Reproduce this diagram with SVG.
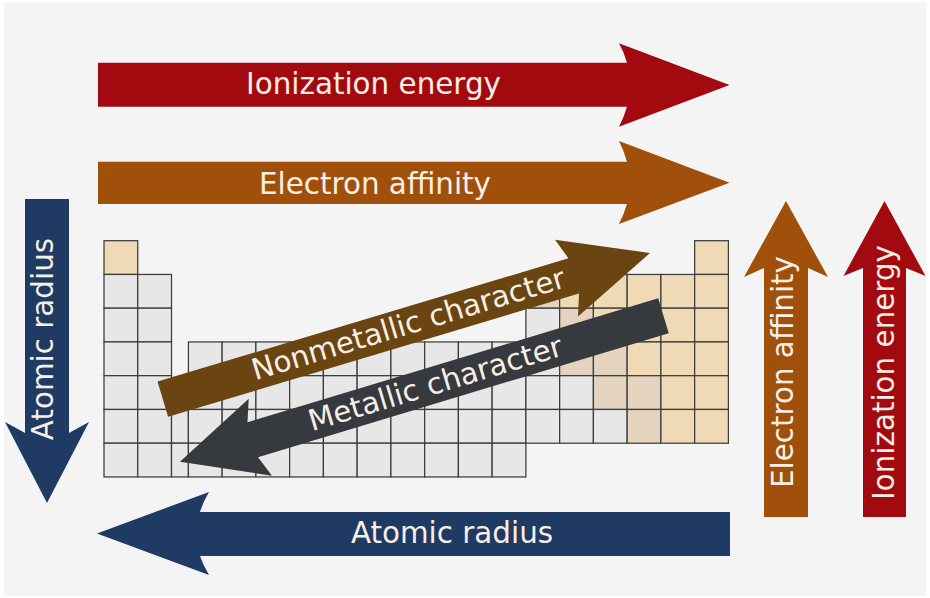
<svg xmlns="http://www.w3.org/2000/svg" xmlns:xlink="http://www.w3.org/1999/xlink" width="930" height="598" viewBox="0 0 930 598">
<style>
.g{fill:#e7e7e7;stroke:#3c3c3c;stroke-width:1.25}
.t{fill:#f0dab6;stroke:#3c3c3c;stroke-width:1.25}
.b{fill:#e4d4bf;stroke:#3c3c3c;stroke-width:1.25}
.lbl{font-family:"DejaVu Sans","Verdana",sans-serif;font-size:29.4px;fill:#f7efe6;text-anchor:middle}
.red{fill:#a30a10}
.org{fill:#a0500b}
.blu{fill:#1f3a63}
.brn{fill:#6b4511}
.drk{fill:#36393e}
</style>
<defs>
<rect id="c" width="33.75" height="33.75"/>
<rect id="n" width="16.9" height="33.75"/>
</defs>
<rect x="0" y="0" width="930" height="598" fill="#ffffff"/>
<rect x="4" y="2" width="922" height="594" fill="#f4f4f4"/>

<g id="periodic-table">
<!-- row 1 -->
<use href="#c" x="104" y="240.7" class="t"/>
<use href="#c" x="694.65" y="240.7" class="t"/>
<!-- row 2 -->
<use href="#c" x="104" y="274.45" class="g"/>
<use href="#c" x="137.75" y="274.45" class="g"/>
<use href="#c" x="525.9" y="274.45" class="b"/>
<use href="#c" x="559.65" y="274.45" class="t"/>
<use href="#c" x="593.4" y="274.45" class="t"/>
<use href="#c" x="627.15" y="274.45" class="t"/>
<use href="#c" x="660.9" y="274.45" class="t"/>
<use href="#c" x="694.65" y="274.45" class="t"/>
<!-- row 3 -->
<use href="#c" x="104" y="308.2" class="g"/>
<use href="#c" x="137.75" y="308.2" class="g"/>
<use href="#c" x="525.9" y="308.2" class="g"/>
<use href="#c" x="559.65" y="308.2" class="b"/>
<use href="#c" x="593.4" y="308.2" class="t"/>
<use href="#c" x="627.15" y="308.2" class="t"/>
<use href="#c" x="660.9" y="308.2" class="t"/>
<use href="#c" x="694.65" y="308.2" class="t"/>
<!-- row 4 -->
<use href="#c" x="104" y="341.95" class="g"/>
<use href="#c" x="137.75" y="341.95" class="g"/>
<use href="#c" x="188.4" y="341.95" class="g"/>
<use href="#c" x="222.15" y="341.95" class="g"/>
<use href="#c" x="255.9" y="341.95" class="g"/>
<use href="#c" x="289.65" y="341.95" class="g"/>
<use href="#c" x="323.4" y="341.95" class="g"/>
<use href="#c" x="357.15" y="341.95" class="g"/>
<use href="#c" x="390.9" y="341.95" class="g"/>
<use href="#c" x="424.65" y="341.95" class="g"/>
<use href="#c" x="458.4" y="341.95" class="g"/>
<use href="#c" x="492.15" y="341.95" class="g"/>
<use href="#c" x="525.9" y="341.95" class="g"/>
<use href="#c" x="559.65" y="341.95" class="b"/>
<use href="#c" x="593.4" y="341.95" class="b"/>
<use href="#c" x="627.15" y="341.95" class="t"/>
<use href="#c" x="660.9" y="341.95" class="t"/>
<use href="#c" x="694.65" y="341.95" class="t"/>
<!-- row 5 -->
<use href="#c" x="104" y="375.7" class="g"/>
<use href="#c" x="137.75" y="375.7" class="g"/>
<use href="#c" x="188.4" y="375.7" class="g"/>
<use href="#c" x="222.15" y="375.7" class="g"/>
<use href="#c" x="255.9" y="375.7" class="g"/>
<use href="#c" x="289.65" y="375.7" class="g"/>
<use href="#c" x="323.4" y="375.7" class="g"/>
<use href="#c" x="357.15" y="375.7" class="g"/>
<use href="#c" x="390.9" y="375.7" class="g"/>
<use href="#c" x="424.65" y="375.7" class="g"/>
<use href="#c" x="458.4" y="375.7" class="g"/>
<use href="#c" x="492.15" y="375.7" class="g"/>
<use href="#c" x="525.9" y="375.7" class="g"/>
<use href="#c" x="559.65" y="375.7" class="g"/>
<use href="#c" x="593.4" y="375.7" class="b"/>
<use href="#c" x="627.15" y="375.7" class="b"/>
<use href="#c" x="660.9" y="375.7" class="t"/>
<use href="#c" x="694.65" y="375.7" class="t"/>
<!-- row 6 -->
<use href="#c" x="104" y="409.45" class="g"/>
<use href="#c" x="137.75" y="409.45" class="g"/>
<use href="#n" x="171.5" y="409.45" class="g"/>
<use href="#c" x="188.4" y="409.45" class="g"/>
<use href="#c" x="222.15" y="409.45" class="g"/>
<use href="#c" x="255.9" y="409.45" class="g"/>
<use href="#c" x="289.65" y="409.45" class="g"/>
<use href="#c" x="323.4" y="409.45" class="g"/>
<use href="#c" x="357.15" y="409.45" class="g"/>
<use href="#c" x="390.9" y="409.45" class="g"/>
<use href="#c" x="424.65" y="409.45" class="g"/>
<use href="#c" x="458.4" y="409.45" class="g"/>
<use href="#c" x="492.15" y="409.45" class="g"/>
<use href="#c" x="525.9" y="409.45" class="g"/>
<use href="#c" x="559.65" y="409.45" class="g"/>
<use href="#c" x="593.4" y="409.45" class="g"/>
<use href="#c" x="627.15" y="409.45" class="b"/>
<use href="#c" x="660.9" y="409.45" class="t"/>
<use href="#c" x="694.65" y="409.45" class="t"/>
<!-- row 7 -->
<use href="#c" x="104" y="443.2" class="g"/>
<use href="#c" x="137.75" y="443.2" class="g"/>
<use href="#n" x="171.5" y="443.2" class="g"/>
<use href="#c" x="188.4" y="443.2" class="g"/>
<use href="#c" x="222.15" y="443.2" class="g"/>
<use href="#c" x="255.9" y="443.2" class="g"/>
<use href="#c" x="289.65" y="443.2" class="g"/>
<use href="#c" x="323.4" y="443.2" class="g"/>
<use href="#c" x="357.15" y="443.2" class="g"/>
<use href="#c" x="390.9" y="443.2" class="g"/>
<use href="#c" x="424.65" y="443.2" class="g"/>
<use href="#c" x="458.4" y="443.2" class="g"/>
<use href="#c" x="492.15" y="443.2" class="g"/>
</g>

<g id="arrows">
<g id="ionization-energy-h">
<path class="red" d="M98,62.7 H627 Q624,52 619,43.3 L729.5,85 L619,126.7 Q624,117 627,106.7 H98 Z"/>
<text class="lbl" x="373.5" y="94">Ionization energy</text>
</g>
<g id="electron-affinity-h">
<path class="org" d="M98,161.7 H627 Q624,151 619,141 L729.5,182.7 L619,224 Q624,214 627,204 H98 Z"/>
<text class="lbl" x="375" y="193.5">Electron affinity</text>
</g>
<g id="atomic-radius-v">
<path class="blu" d="M25,199 H69 V433 Q78,428 89,422 L47,503 L5,422 Q16,428 25,433 Z"/>
<text class="lbl" x="53" y="339" transform="rotate(-90 53 339)">Atomic radius</text>
</g>
<g id="atomic-radius-h">
<path class="blu" d="M730,512 H200 Q203,502 209,492 L97,533.5 L209,575 Q203,565 200,556 H730 Z"/>
<text class="lbl" x="452" y="542.5">Atomic radius</text>
</g>
<g id="electron-affinity-v">
<path class="org" d="M764,517 V268 Q755,272 744,277 L786,201 L828,277 Q817,272 808,268 V517 Z"/>
<text class="lbl" x="793" y="372" transform="rotate(-90 793 372)">Electron affinity</text>
</g>
<g id="ionization-energy-v">
<path class="red" d="M863,517 V268 Q853,272 843.5,276 L884.5,201 L925.5,276 Q916,272 906,268 V517 Z"/>
<text class="lbl" x="893.5" y="372.5" transform="rotate(-90 893.5 372.5)">Ionization energy</text>
</g>
<g id="nonmetallic-character" transform="translate(162.8,399.2) rotate(-16.7)">
<path class="brn" d="M0,-18.4 H429 L421.5,-40 L508.6,0 L421.5,40 L429,18.4 H0 Z"/>
<text class="lbl" x="256.7" y="8.5">Nonmetallic character</text>
</g>
<g id="metallic-character" transform="translate(180,461.7) rotate(-16.8)">
<path class="drk" d="M505,-18.2 H76 L84,-40.5 L0,0 L84,40 L76,18.2 H505 Z"/>
<text class="lbl" x="267" y="9">Metallic character</text>
</g>
</g>
</svg>
